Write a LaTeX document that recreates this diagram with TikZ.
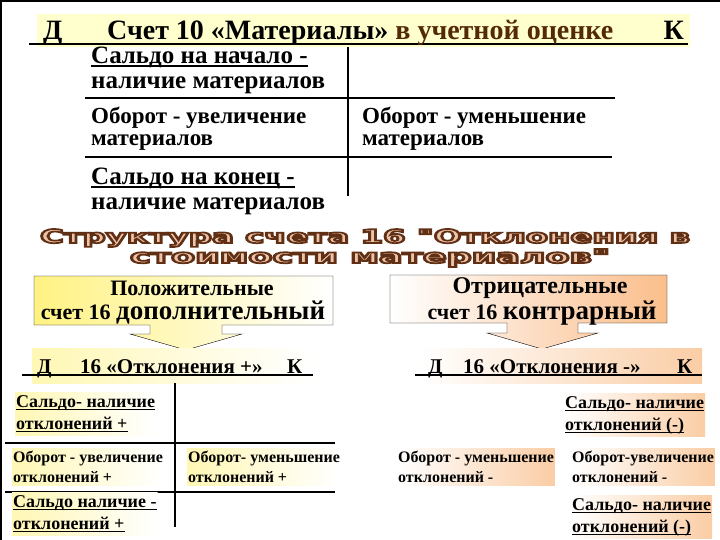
\documentclass[tikz,border=0pt]{standalone}
\usepackage{fontspec}
\setmainfont{Liberation Serif}
\newfontfamily\artfont{DejaVu Sans}
\usetikzlibrary{positioning}

\definecolor{brownacc}{RGB}{84,42,4}
\definecolor{bandyellow}{RGB}{255,255,205}
\definecolor{softyellow}{RGB}{255,242,130}
\definecolor{paleyellow}{RGB}{255,247,180}
\definecolor{softorange}{RGB}{250,190,140}
\definecolor{paleorange}{RGB}{250,205,165}
\definecolor{artfill}{RGB}{236,196,170}

% underline that scales with the font
\newsavebox\ulbox
\newcommand\uln[1]{\sbox\ulbox{#1}\rlap{\rule[-0.17em]{\wd\ulbox}{0.08em}}\usebox\ulbox}

% outlined title line: name, position, width, text
\newcommand\wordart[4]{%
  \node[artface] (#1) at (#2) {\resizebox*{#3}{18pt}{%
    \special{pdf:literal direct 2 Tr 0.9 w 0.38 0.19 0.08 RG}#4\special{pdf:literal direct 0 Tr}}};
}

\begin{document}
\begin{tikzpicture}[x=1pt, y=-1pt,
    tline/.style={line width=2.2pt},
    tline2/.style={line width=1.8pt},
    hdr/.style={anchor=base west, inner sep=0pt, font=\fontsize{28}{28}\selectfont\bfseries},
    topblk/.style={anchor=west, align=left, inner sep=0pt, font=\fontsize{25}{25}\selectfont\bfseries},
    turnblktop/.style={topblk, font=\fontsize{23}{22}\selectfont\bfseries},
    calltxt/.style={inner sep=0pt, font=\bfseries},
    subhdr/.style={anchor=base west, inner sep=0pt, font=\fontsize{21}{21}\selectfont\bfseries},
    smallblk/.style={anchor=west, align=left, inner xsep=1pt, inner ysep=3pt, font=\fontsize{18}{22}\selectfont\bfseries},
    turnblk/.style={anchor=west, align=left, inner xsep=1pt, inner ysep=3pt, font=\fontsize{16}{20}\selectfont\bfseries},
    hlyel/.style={left color=paleyellow, right color=white},
    hlora/.style={left color=white, right color=paleorange},
    artface/.style={inner sep=0pt, text=artfill}]
  \useasboundingbox (0,0) rectangle (720,540);

  % slide frame
  \draw [line width=2pt] (1,540) -- (1,1) -- (720,1);

  % account 10
  \node [fill=bandyellow, minimum width=653pt, minimum height=33pt, anchor=north west, inner sep=0pt] (topband) at (37,14) {};
  \draw [tline] (29,44) -- (688,44);
  \node [hdr] (topD) at (43,40) {Д};
  \node [hdr] (toptitle) at (107,40) {Счет 10 «Материалы» \textcolor{brownacc}{в учетной оценке}};
  \node [hdr, anchor=base east] (topK) at (684,40) {К};

  \draw [tline] (348,47) -- (348,196);
  \draw [tline] (85,98) -- (615,98);
  \draw [tline] (85,157) -- (612,157);

  \node [topblk] (startbal) at (91,70) {\uln{Сальдо на начало -}\\наличие материалов};
  \node [turnblktop] (debturn) at (91,129) {Оборот - увеличение\\материалов};
  \node [turnblktop] (credturn) at (362,129) {Оборот - уменьшение\\материалов};
  \node [topblk] (endbal) at (91,191) {\uln{Сальдо на конец -}\\наличие материалов};

  % title of account 16
  \wordart{artone}{365,238}{650pt}{\artfont\bfseries Структура счета 16 "Отклонения в}
  \wordart{arttwo}{370,258}{480pt}{\artfont\bfseries стоимости материалов"}

  % callouts
  \path [draw=black, thin, left color=softyellow, right color=white]
    (34,276) -- (333,276) -- (333,325) -- (222,325) -- (222,334) -- (242,334)
    -- (186,350) -- (130,334) -- (150,334) -- (150,325) -- (34,325) -- cycle;
  \path [draw=black, thin, left color=white, right color=softorange]
    (390,275) -- (667,275) -- (667,323) -- (578,323) -- (578,333) -- (598,333)
    -- (542,349) -- (487,333) -- (507,333) -- (507,323) -- (390,323) -- cycle;

  \node [calltxt] (posline) at (192,288) {\fontsize{22}{22}\selectfont Положительные};
  \node [calltxt] (posacc) at (183,313) {\fontsize{22}{22}\selectfont счет 16 \fontsize{27}{27}\selectfont дополнительный};
  \node [calltxt] (negline) at (540,288) {\fontsize{24}{24}\selectfont Отрицательные};
  \node [calltxt] (negacc) at (542,313) {\fontsize{22}{22}\selectfont счет 16 \fontsize{27}{27}\selectfont контрарный};

  % account 16 +
  \node [hlyel, minimum width=281pt, minimum height=35pt, anchor=north west, inner sep=0pt] (plusband) at (32,348) {};
  \draw [tline2] (22,375) -- (313,375);
  \node [subhdr] (plusD) at (37,373) {Д};
  \node [subhdr] (plustitle) at (80,373) {16 «Отклонения +»};
  \node [subhdr] (plusK) at (287,373) {К};

  \draw [tline2] (175,383) -- (175,527);
  \draw [tline2] (5,443) -- (335,443);
  \draw [tline2] (5,492) -- (335,492);

  \node [smallblk, hlyel] (plusopen) at (15,414) {\uln{Сальдо- наличие}\\\uln{отклонений +}};
  \node [turnblk, hlyel] (plusdebit) at (12,467) {Оборот - увеличение\\отклонений +};
  \node [turnblk, hlyel] (pluscredit) at (187,467) {Оборот- уменьшение\\отклонений +};
  \node [smallblk, hlyel] (plusclose) at (12,514) {\uln{Сальдо наличие -}\\\uln{отклонений +}};

  % account 16 -
  \node [hlora, minimum width=282pt, minimum height=35pt, anchor=north west, inner sep=0pt] (minusband) at (420,348) {};
  \draw [tline2] (415,375) -- (702,375);
  \node [subhdr] (minusD) at (428,373) {Д};
  \node [subhdr] (minustitle) at (463,373) {16 «Отклонения -»};
  \node [subhdr] (minusK) at (677,373) {К};

  \node [smallblk, hlora] (minusopen) at (564,415) {\uln{Сальдо- наличие}\\\uln{отклонений (-)}};
  \node [turnblk, hlora] (minuscredit) at (397,467) {Оборот - уменьшение\\отклонений -};
  \node [turnblk, hlora] (minusdebit) at (571,467) {Оборот-увеличение\\отклонений -};
  \node [smallblk, hlora] (minusclose) at (571,517) {\uln{Сальдо- наличие}\\\uln{отклонений (-)}};
\end{tikzpicture}
\end{document}
